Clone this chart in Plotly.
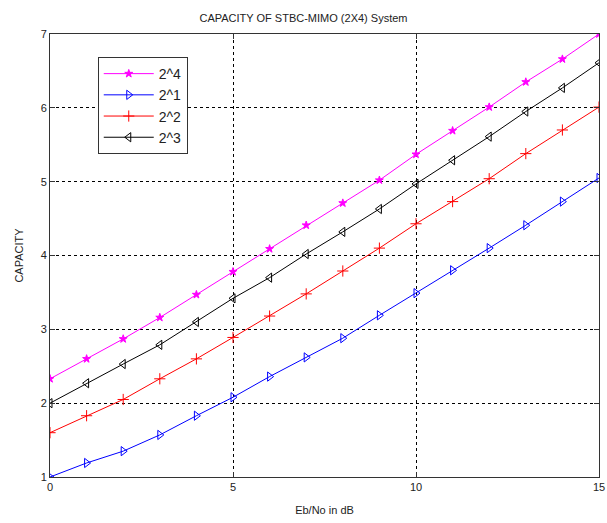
import plotly.graph_objects as go

ebno = list(range(16))
cap_2_4 = [2.33, 2.60, 2.87, 3.16, 3.47, 3.78, 4.09, 4.41, 4.71, 5.02, 5.37, 5.69, 6.01, 6.35, 6.66, 7.00]
cap_2_1 = [1.00, 1.19, 1.35, 1.57, 1.83, 2.08, 2.36, 2.62, 2.88, 3.19, 3.49, 3.80, 4.10, 4.41, 4.73, 5.05]
cap_2_2 = [1.60, 1.83, 2.05, 2.33, 2.60, 2.89, 3.18, 3.48, 3.79, 4.10, 4.43, 4.73, 5.04, 5.38, 5.70, 6.01]
cap_2_3 = [2.00, 2.27, 2.53, 2.79, 3.10, 3.42, 3.70, 4.02, 4.32, 4.63, 4.97, 5.29, 5.61, 5.95, 6.27, 6.61]

series = [
    ("2^4", cap_2_4, "#ff00ff", "star", 6),
    ("2^1", cap_2_1, "#0000ff", "triangle-right-open", 8),
    ("2^2", cap_2_2, "#ff0000", "cross-thin-open", 8),
    ("2^3", cap_2_3, "#000000", "triangle-left-open", 8),
]

fig = go.Figure()
for name, vals, color, sym, sz in series:
    fig.add_trace(go.Scatter(
        x=ebno, y=vals, name=name, mode="lines+markers",
        line=dict(color=color, width=1),
        marker=dict(symbol=sym, size=sz, color=color, line=dict(color=color, width=1)),
    ))

font_fam = "Arial, Liberation Sans"
axis_common = dict(
    showline=True, linecolor="#333333", linewidth=1, mirror="ticks",
    ticks="inside", ticklen=5, tickcolor="#333333",
    showgrid=True, gridcolor="#000000", griddash="dot", gridwidth=1,
    zeroline=False, tickfont=dict(family=font_fam, size=11, color="#222222"),
)

fig.update_xaxes(range=[0, 15], tickvals=[0, 5, 10, 15],
                 title=dict(text="Eb/No in dB", font=dict(family=font_fam, size=11, color="#222222"), standoff=14),
                 **axis_common)
fig.update_yaxes(range=[1, 7], tickvals=[1, 2, 3, 4, 5, 6, 7],
                 title=dict(text="CAPACITY", font=dict(family=font_fam, size=11, color="#222222"), standoff=14),
                 **axis_common)

fig.update_layout(
    width=607, height=523,
    margin=dict(l=50, r=8, t=34, b=46, autoexpand=False),
    paper_bgcolor="white", plot_bgcolor="white",
    title=dict(text="CAPACITY OF STBC-MIMO (2X4) System", x=0.5, xanchor="center", y=0.965, yanchor="middle",
               font=dict(family=font_fam, size=11, color="#222222")),
    legend=dict(x=0.087, y=0.948, xanchor="left", yanchor="top",
                bordercolor="#333333", borderwidth=1, bgcolor="white",
                itemwidth=50, font=dict(family=font_fam, size=14, color="#222222")),
    showlegend=True,
)

fig.write_html("out.html", config={"displayModeBar": False},
               post_script="document.body.style.margin='0';document.body.style.overflow='hidden';")
